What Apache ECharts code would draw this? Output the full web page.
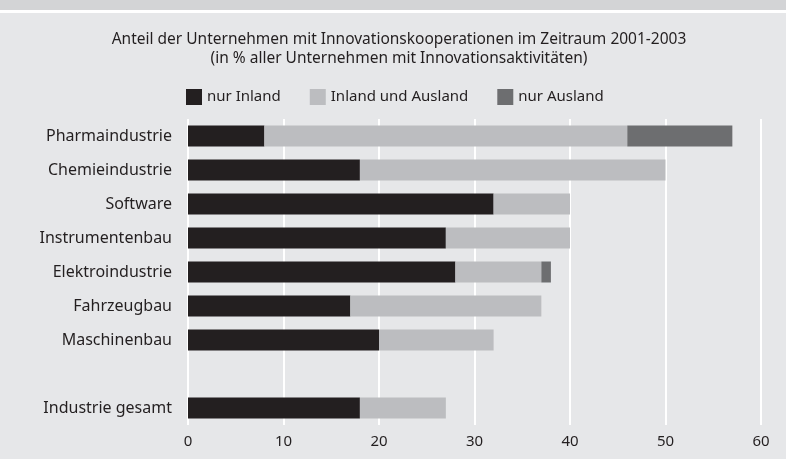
<!DOCTYPE html>
<html>
<head>
<meta charset="utf-8">
<script src="https://cdn.jsdelivr.net/npm/echarts@6/dist/echarts.min.js"></script>
<style>
  html, body { margin: 0; padding: 0; background: #e6e7e9; }
  #chart { width: 786px; height: 459px; }
</style>
</head>
<body>
<div id="chart"></div>
<script>
// Branchen (leere Zeile trennt den Industriedurchschnitt ab)
const categories = ['Pharmaindustrie', 'Chemieindustrie', 'Software', 'Instrumentenbau',
  'Elektroindustrie', 'Fahrzeugbau', 'Maschinenbau', '', 'Industrie gesamt'];
const nurInland = [8, 18, 32, 27, 28, 17, 20, '-', 18];
const inlandUndAusland = [38, 32, 8, 13, 9, 20, 12, '-', 9];
const nurAusland = [11, 0, 0, 0, 1, 0, 0, '-', 0];
const xTicks = [0, 10, 20, 30, 40, 50, 60];

const FONT = '"Noto Sans", sans-serif';
const TEXT = '#231f20';

const chart = echarts.init(document.getElementById('chart'));

const barSeries = (name, data, color) => ({
  name, type: 'bar', stack: 'total', data, barWidth: 21,
  itemStyle: { color }, emphasis: { disabled: true }
});

chart.setOption({
  backgroundColor: '#e6e7e9',
  animation: false,
  textStyle: { fontFamily: FONT, color: TEXT },
  graphic: [
    { type: 'rect', shape: { x: 0, y: 0, width: 786, height: 10 }, style: { fill: '#d3d4d6' } },
    { type: 'rect', shape: { x: 0, y: 10, width: 786, height: 3 }, style: { fill: '#ffffff' } }
  ],
  title: {
    text: 'Anteil der Unternehmen mit Innovationskooperationen im Zeitraum 2001-2003\n(in % aller Unternehmen mit Innovationsaktivitäten)',
    left: 394, top: 25,
    textAlign: 'center',
    textStyle: { fontFamily: FONT, fontSize: 15.5, fontWeight: 'normal', color: TEXT, lineHeight: 19 }
  },
  legend: {
    top: 84, left: 181,
    itemWidth: 16, itemHeight: 16, itemGap: 29,
    icon: 'rect',
    textStyle: { fontFamily: FONT, fontSize: 15, color: TEXT },
    data: ['nur Inland', 'Inland und Ausland', 'nur Ausland']
  },
  grid: { left: 188, right: 25, top: 119, bottom: 34, containLabel: false },
  xAxis: {
    type: 'value', min: 0, max: 60, interval: 10,
    axisLine: { show: false }, axisTick: { show: false },
    axisLabel: {
      fontFamily: FONT, fontSize: 15, color: TEXT, margin: 9,
      formatter: v => xTicks.includes(v) ? String(v) : ''
    },
    splitLine: { show: true, lineStyle: { color: '#ffffff', width: 2 } }
  },
  yAxis: {
    type: 'category', data: categories, inverse: true,
    axisLine: { show: false }, axisTick: { show: false },
    axisLabel: { fontFamily: FONT, fontSize: 16, color: TEXT, margin: 16 }
  },
  series: [
    barSeries('nur Inland', nurInland, '#231f20'),
    barSeries('Inland und Ausland', inlandUndAusland, '#bcbdc0'),
    barSeries('nur Ausland', nurAusland, '#6d6e70')
  ]
});
</script>
</body>
</html>
